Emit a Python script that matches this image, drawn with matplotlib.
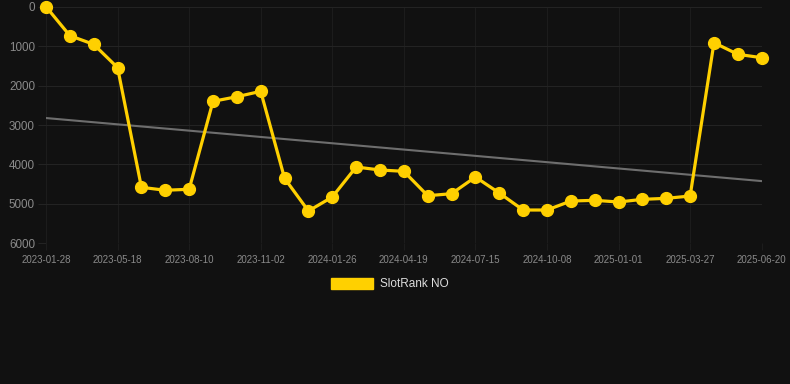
import numpy as np
import matplotlib.pyplot as plt

# Rank values (lower is better), one every ~4 weeks
dates = ["2023-01-28", "2023-05-18", "2023-08-10", "2023-11-02", "2024-01-26", "2024-04-19",
         "2024-07-15", "2024-10-08", "2025-01-01", "2025-03-27", "2025-06-20"]
rank = [0, 735, 955, 1545, 4580, 4655, 4630, 2400, 2283, 2146,
        4352, 5181, 4826, 4065, 4141, 4175, 4793, 4742, 4319, 4725,
        5156, 5156, 4928, 4910, 4953, 4885, 4860, 4801, 913, 1208, 1293]
y_ticks = [0, 1000, 2000, 3000, 4000, 5000, 6000]

bg = "#111111"
gold = "#ffd000"
plt.rcParams['font.family'] = ['Liberation Sans', 'DejaVu Sans']

fig = plt.figure(figsize=(7.9, 3.84), dpi=100, facecolor=bg)
ax = fig.add_axes([46 / 790, 1 - 243.3 / 384, 715.7 / 790, 236.6 / 384], facecolor=bg)

x = np.arange(len(rank))
# linear trend
k, b = np.polyfit(x, rank, 1)
ax.plot(x, k * x + b, color="#6e6e6e", lw=1.5, zorder=2)

ax.plot(x, rank, color=gold, lw=2.3, marker="o", markersize=8.5, clip_on=False,
        label="SlotRank NO", zorder=3)

ax.set_xlim(0, len(rank) - 1)
ax.set_ylim(6000, 0)
ax.set_yticks(y_ticks)
ax.set_xticks(x[::3])
ax.set_xticklabels(dates)
ax.grid(True, axis="y", color="#232323", lw=0.8)
ax.grid(True, axis="x", color="#1c1c1c", lw=0.8)
ax.tick_params(axis="y", colors="#232323", labelcolor="#8a8a8a", labelsize=8.4, length=6, pad=2)
ax.tick_params(axis="x", colors="#1c1c1c", labelcolor="#8a8a8a", labelsize=7, length=5, pad=3.5)
for s in ax.spines.values():
    s.set_visible(False)

leg = fig.legend(handles=[plt.Rectangle((0, 0), 1, 1, color=gold)], labels=["SlotRank NO"],
                 loc="center", bbox_to_anchor=(390 / 790, 1 - 284 / 384), frameon=False,
                 fontsize=8.5, handlelength=3.6, handleheight=1.1, handletextpad=0.6)
for t in leg.get_texts():
    t.set_color("#dddddd")

fig.savefig("out.png", facecolor=bg)
